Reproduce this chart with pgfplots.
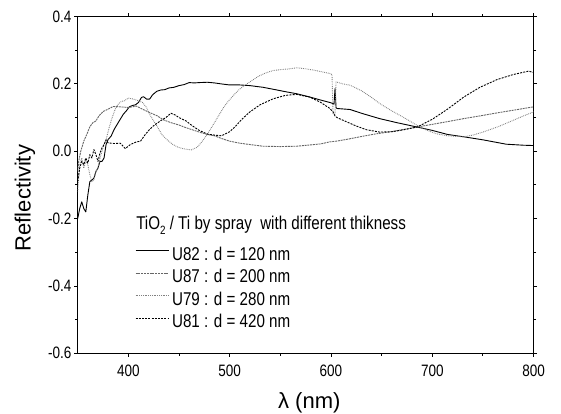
\documentclass[border=0pt]{standalone}
\usepackage{fontspec}
\setmainfont{Liberation Sans}[FakeStretch=0.82]
\newfontfamily\labelfont{Liberation Sans}
\usepackage{pgfplots}
\pgfplotsset{compat=1.18}

\begin{document}
\begin{tikzpicture}
\begin{axis}[
    scale only axis,
    width=455.9bp, height=336.7bp,
    xmin=350, xmax=800, ymin=-0.6, ymax=0.4,
    xtick={400,500,600,700,800},
    minor xtick={450,550,650,750},
    ytick={-0.6,-0.4,-0.2,0,0.2,0.4},
    minor ytick={-0.5,-0.3,-0.1,0.1,0.3},
    tick align=outside,
    major tick length=3.5bp, minor tick length=2.5bp,
    every tick/.style={black, line width=0.9bp},
    axis line style={line width=1bp},
    tick label style={font=\fontsize{16.5bp}{18bp}\selectfont},
    xticklabel style={/pgf/number format/assume math mode=true, inner sep=0pt, anchor=north, yshift=-8bp},
    yticklabel style={/pgf/number format/.cd, fixed, fixed zerofill, precision=1, assume math mode=true, /tikz/.cd, inner sep=0pt, xshift=-2.5bp},
    xlabel={λ (nm)},
    ylabel={Reflectivity},
    label style={font=\labelfont\fontsize{22bp}{24bp}\selectfont},
    xlabel style={at={(axis description cs:0.508,-0.148)}, anchor=center},
    ylabel style={at={(axis description cs:-0.1156,0.461)}, anchor=center},
    legend cell align=left,
    legend image code/.code={\draw[#1] (0bp,4.5bp) -- (33bp,4.5bp);},
    legend style={
        font=\fontsize{18.5bp}{20bp}\selectfont,
        draw=none, fill=none, inner sep=0pt,
        at={(axis description cs:0.1257,0.316)}, anchor=north west,
        nodes={inner sep=0pt, text height=13bp, text depth=3bp},
        column sep=3bp, row sep=6.5bp
    },
    every axis plot/.append style={line width=0.9bp, line join=round},
]
% U82 : d = 120 nm
\addplot[black] coordinates {
(350,-0.20) (352,-0.17) (354,-0.15) (356,-0.17) (358,-0.18) (360,-0.13) (362,-0.09)
(364,-0.085) (366,-0.08) (368,-0.06) (370,-0.05) (372,-0.03) (374,-0.03) (376,-0.02)
(378,0.02) (380,0.035) (383,0.045) (386,0.065) (389,0.08) (392,0.095) (395,0.11)
(398,0.12) (401,0.132) (404,0.136) (407,0.138) (410,0.145) (413,0.16) (415,0.162)
(418,0.155) (421,0.155) (424,0.168) (428,0.178) (432,0.182) (436,0.183) (440,0.188)
(445,0.19) (450,0.195) (455,0.198) (460,0.204) (465,0.203) (470,0.204) (478,0.205)
(485,0.203) (492,0.2) (500,0.197) (510,0.197) (520,0.195) (533,0.19) (545,0.183)
(555,0.177) (566,0.171) (578,0.162) (590,0.152) (600,0.144) (603,0.14) (604,0.186)
(604.5,0.16) (605,0.13) (606,0.127) (619,0.124) (630,0.113) (648,0.097) (665,0.085)
(685,0.072) (700,0.062) (715,0.05) (731,0.043) (750,0.034) (773,0.021) (790,0.018)
(800,0.017)
};
\addlegendentry{U82 : d = 120 nm}
% U87 : d = 200 nm
\addplot[black!60, dash pattern=on 2bp off 0.8bp] coordinates {
(350,-0.06) (351,-0.03) (353,0.0) (356,0.03) (359,0.05) (362,0.073) (365,0.085)
(368,0.09) (371,0.105) (375,0.118) (380,0.125) (385,0.133) (392,0.132) (400,0.13)
(408,0.134) (414,0.125) (421,0.115) (428,0.106) (435,0.093) (442,0.085) (450,0.078)
(456,0.071) (464,0.063) (471,0.056) (478,0.05) (485,0.046) (492,0.038) (500,0.03)
(510,0.024) (520,0.02) (533,0.015) (550,0.014) (566,0.015) (580,0.019) (590,0.022)
(599,0.028) (605,0.03) (615,0.035) (632,0.045) (645,0.052) (659,0.058) (672,0.065)
(685,0.072) (700,0.08) (715,0.088) (731,0.097) (747,0.105) (764,0.114) (780,0.122)
(790,0.127) (800,0.132)
};
\addlegendentry{U87 : d = 200 nm}
% U79 : d = 280 nm
\addplot[black!50, dash pattern=on 0.8bp off 1bp] coordinates {
(350,-0.12) (352,-0.04) (354,-0.02) (356,-0.05) (358,-0.03) (360,-0.04) (362,-0.07)
(364,-0.09) (366,-0.085) (368,-0.06) (370,-0.05) (372,-0.02) (374,0.0) (376,0.02)
(378,0.035) (381,0.07) (384,0.1) (387,0.125) (390,0.14) (393,0.148) (396,0.15)
(400,0.158) (405,0.155) (410,0.15) (414,0.145) (418,0.13) (421,0.11) (425,0.09)
(428,0.076) (433,0.05) (439,0.032) (444,0.02) (449,0.012) (455,0.007) (462,0.004)
(468,0.012) (473,0.03) (478,0.051) (483,0.075) (488,0.1) (494,0.13) (499,0.15)
(505,0.17) (510,0.185) (516,0.198) (522,0.21) (528,0.222) (535,0.232) (543,0.24)
(552,0.243) (560,0.245) (566,0.248) (575,0.245) (583,0.241) (591,0.236) (599,0.231)
(601,0.228) (602,0.112) (604,0.11) (605,0.206) (612,0.2) (619,0.196) (630,0.18)
(640,0.16) (648,0.142) (660,0.12) (672,0.1) (685,0.077) (695,0.062) (704,0.052)
(715,0.046) (731,0.043) (740,0.048) (750,0.057) (765,0.073) (780,0.092) (790,0.105)
(800,0.117)
};
\addlegendentry{U79 : d = 280 nm}
% U81 : d = 420 nm
\addplot[black, dash pattern=on 2bp off 1.2bp] coordinates {
(350,-0.09) (352,-0.05) (354,-0.03) (356,-0.04) (358,-0.02) (360,-0.035) (362,-0.01)
(364,-0.02) (366,0.005) (368,-0.01) (370,-0.03) (372,-0.005) (374,0.01) (376,0.02)
(378,0.034) (380,0.025) (386,0.023) (392,0.024) (397,0.008) (402,0.02) (408,0.028)
(412,0.03) (417,0.051) (421,0.065) (425,0.076) (432,0.091) (437,0.1) (442,0.113)
(446,0.108) (450,0.1) (457,0.09) (463,0.076) (470,0.062) (478,0.051) (485,0.048)
(492,0.046) (500,0.058) (506,0.075) (512,0.095) (520,0.117) (530,0.138) (543,0.156)
(555,0.166) (566,0.169) (579,0.161) (590,0.145) (599,0.127) (602,0.117) (604,0.105)
(606,0.1) (615,0.088) (625,0.075) (635,0.064) (648,0.057) (660,0.058) (672,0.064)
(685,0.072) (700,0.095) (715,0.125) (731,0.161) (747,0.19) (764,0.213) (780,0.228)
(795,0.238) (800,0.234)
};
\addlegendentry{U81 : d = 420 nm}
\node[anchor=base west, inner sep=0pt, font=\fontsize{18.5bp}{20bp}\selectfont]
    at (axis description cs:0.128,0.367)
    {TiO\raisebox{-0.45ex}{\fontsize{12bp}{12bp}\selectfont 2} / Ti by spray~~with different thikness};
\end{axis}
\pgfresetboundingbox
\path (-77.7bp,-60.7bp) rectangle (483.3bp,353.3bp);
\end{tikzpicture}
\end{document}
